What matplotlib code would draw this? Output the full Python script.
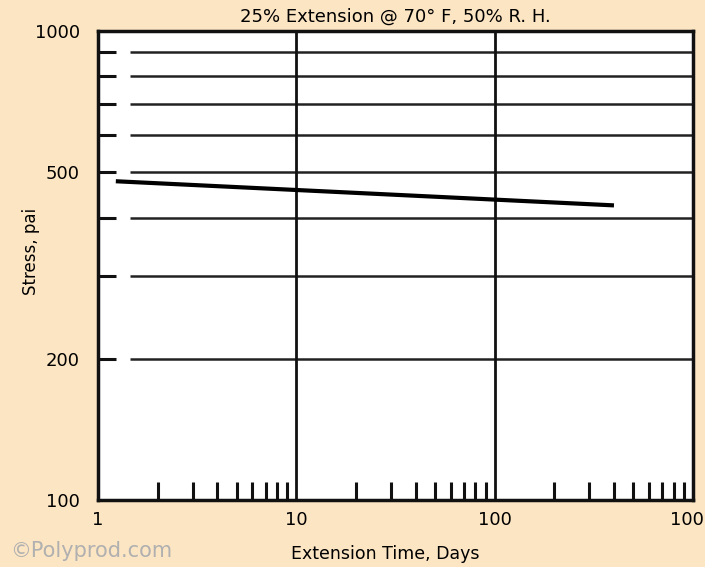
import matplotlib
matplotlib.use("Agg")
import matplotlib.pyplot as plt
from matplotlib.ticker import FixedLocator, NullFormatter

# Data
time_days = [1.26, 390]
stress_psi = [478, 425]
x_major = [1, 10, 100, 1000]
x_major_labels = ["1", "10", "100", "1000"]
y_major = [100, 200, 500, 1000]
y_major_labels = ["100", "200", "500", "1000"]
y_grid = [200, 300, 400, 500, 600, 700, 800, 900]
x_minor = [2, 3, 4, 5, 6, 7, 8, 9, 20, 30, 40, 50, 60, 70, 80, 90,
           200, 300, 400, 500, 600, 700, 800, 900]

bg = "#FCE5C3"
fig = plt.figure(figsize=(7.05, 5.67), dpi=100, facecolor=bg)
ax = fig.add_axes([98/705, 1 - 500/567, (693-98)/705, (500-31)/567])
ax.set_facecolor("white")
ax.set_xscale("log")
ax.set_yscale("log")
ax.set_xlim(1, 1000)
ax.set_ylim(100, 1000)

# grid lines
ax.hlines(y_grid, 1.45, 1000, colors="#222222", linewidth=1.8, zorder=1)
for xv in [10, 100]:
    ax.axvline(xv, color="#111111", linewidth=2, zorder=1)

ax.plot(time_days, stress_psi, color="black", linewidth=3, zorder=3)

for s in ax.spines.values():
    s.set_linewidth(2.5)
    s.set_color("#111111")

ax.xaxis.remove_overlapping_locs = False
ax.yaxis.remove_overlapping_locs = False
ax.xaxis.set_major_locator(FixedLocator(x_major))
ax.set_xticklabels(x_major_labels)
ax.xaxis.set_minor_locator(FixedLocator(x_minor))
ax.xaxis.set_minor_formatter(NullFormatter())
ax.yaxis.set_major_locator(FixedLocator(y_major))
ax.set_yticklabels(y_major_labels)
ax.yaxis.set_minor_locator(FixedLocator(y_grid))
ax.yaxis.set_minor_formatter(NullFormatter())

ax.tick_params(axis="x", which="major", length=0, pad=8, labelsize=13)
ax.tick_params(axis="x", which="minor", direction="in", length=13, width=2.2, color="#111111")
ax.tick_params(axis="y", which="major", length=0, pad=13, labelsize=13)
ax.tick_params(axis="y", which="minor", direction="in", length=13, width=2.2, color="#111111")

ax.set_title("25% Extension @ 70° F, 50% R. H.", fontsize=13, pad=7)
ax.set_xlabel("Extension Time, Days", fontsize=12.5)
ax.xaxis.set_label_coords(0.482, -0.097)
ax.set_ylabel("Stress, pai", fontsize=12)
ax.yaxis.set_label_coords(-0.098, 0.53)

fig.text(10/705, 1 - 551/567, "©Polyprod.com", color="#B0B0B0", fontsize=15,
         va="center", ha="left")

fig.savefig("out.png", dpi=100, facecolor=bg)
